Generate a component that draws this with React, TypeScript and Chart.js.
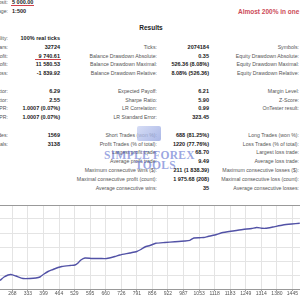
import React, { useEffect, useRef } from "react";
import { Chart, registerables } from "chart.js";

Chart.register(...registerables);

// ---- chart data (balance curve, trade number vs balance) ----
const tradeNumbers = [
  216, 233, 250, 262, 283, 313, 342, 367, 384, 401, 418, 439, 460, 476, 510, 531, 544, 556, 573,
  602, 636, 665, 699, 720, 762, 791, 808, 825, 846, 871, 909, 951, 993, 1014, 1031, 1056, 1073,
  1090, 1119, 1148, 1195, 1237, 1274, 1295, 1316, 1333, 1363, 1405, 1442, 1476,
];
const balance = [
  5214, 5714, 6000, 6071, 5857, 5500, 5500, 5571, 5714, 6143, 6500, 6786, 7071, 7214, 7357, 7429,
  7714, 8143, 8429, 8357, 8357, 8357, 8643, 8857, 9143, 9357, 9643, 10000, 10214, 10529, 10643,
  10743, 10857, 10957, 11286, 11329, 11357, 11500, 11714, 12029, 12286, 12500, 12643, 12786, 12686,
  12671, 12857, 13143, 13286, 13386,
];
const xTickValues = [268, 333, 399, 464, 529, 595, 660, 726, 791, 856, 922, 987, 1053, 1118, 1183, 1249, 1314, 1380, 1445];
const xRange = [216, 1477];
const yRange = [4000, 16000];
const yStep = 2000;

// ---- report text ----
const headerLabels = ["Initial Deposit:", "Leverage:"];
const headerValues = ["5 000.00", "1:500"];
const sectionTitle = "Results";
const note = "Almost 200% in one month";
const col1Labels = ["History Quality:", "Bars:", "Total Net Profit:", "Gross Profit:", "Gross Loss:", "", "Profit Factor:", "Recovery Factor:", "AHPR:", "GHPR:", "", "Total Trades:", "Total Deals:", "", "", "", "", ""];
const col1Values = ["100% real ticks", "32724", "9 740.61", "11 580.53", "-1 839.92", "", "6.29", "2.55", "1.0007 (0.07%)", "1.0007 (0.07%)", "", "1569", "3138", "", "", "", "", ""];
const col2Labels = ["", "Ticks:", "Balance Drawdown Absolute:", "Balance Drawdown Maximal:", "Balance Drawdown Relative:", "", "Expected Payoff:", "Sharpe Ratio:", "LR Correlation:", "LR Standard Error:", "", "Short Trades (won %):", "Profit Trades (% of total):", "Largest profit trade:", "Average profit trade:", "Maximum consecutive wins ($):", "Maximal consecutive profit (count):", "Average consecutive wins:"];
const col2Values = ["", "2074184", "0.35", "526.36 (8.08%)", "8.08% (526.36)", "", "6.21", "5.90", "0.99", "323.45", "", "688 (81.25%)", "1220 (77.76%)", "68.70", "9.49", "211 (1 838.39)", "1 975.68 (208)", "35"];
const col3Labels = ["", "Symbols:", "Equity Drawdown Absolute:", "Equity Drawdown Maximal:", "Equity Drawdown Relative:", "", "Margin Level:", "Z-Score:", "OnTester result:", "", "", "Long Trades (won %):", "Loss Trades (% of total):", "Largest loss trade:", "Average loss trade:", "Maximum consecutive losses ($):", "Maximal consecutive loss (count):", "Average consecutive losses:"];
const watermark = ["SIMPLE FOREX", "TOOLS"];

const FONT = "'Liberation Sans', Arial, sans-serif";
const ROW0 = 38;
const ROWH = 8.8;

function Cell(props: { text: string; right: number; y: number; bold?: boolean; color?: string; size?: number }) {
  const { text, right, y, bold, color, size } = props;
  if (!text) return null;
  return (
    <div
      style={{
        position: "absolute",
        left: right - 200,
        width: 200,
        top: y - 4,
        height: 8,
        lineHeight: "8px",
        textAlign: "right",
        whiteSpace: "nowrap",
        fontFamily: FONT,
        fontSize: size ?? (bold ? 5.5 : 5.2),
        fontWeight: bold ? 700 : 400,
        color: color ?? (bold ? "#1a1a1a" : "#555"),
      }}
    >
      {text}
    </div>
  );
}

export default function App() {
  const canvasRef = useRef<HTMLCanvasElement | null>(null);

  useEffect(() => {
    const canvas = canvasRef.current;
    if (!canvas) return;
    const points = tradeNumbers.map((t, i) => ({ x: t, y: balance[i] }));
    const chart = new Chart(canvas, {
      type: "line",
      data: {
        datasets: [
          {
            data: points,
            borderColor: "#5252a6",
            borderWidth: 1.4,
            pointRadius: 0,
            tension: 0.2,
            fill: false,
          },
        ],
      },
      options: {
        animation: false,
        responsive: false,
        maintainAspectRatio: false,
        layout: { padding: { top: 5, left: 0, right: 0, bottom: 3 } },
        plugins: { legend: { display: false }, tooltip: { enabled: false }, title: { display: false } },
        scales: {
          x: {
            type: "linear",
            min: xRange[0],
            max: xRange[1],
            afterBuildTicks: (scale: any) => {
              scale.ticks = xTickValues.map((v) => ({ value: v }));
            },
            ticks: {
              autoSkip: false,
              maxRotation: 0,
              padding: 0,
              color: "#555",
              font: { size: 5, family: FONT },
              callback: (v: any) => String(v),
            },
            grid: { color: "#e4e4e4", tickLength: 2, tickColor: "#999", lineWidth: 1 },
            border: { color: "#999", width: 1 },
          },
          y: {
            type: "linear",
            min: yRange[0],
            max: yRange[1],
            ticks: { display: false, stepSize: yStep },
            grid: {
              drawTicks: false,
              color: (ctx: any) => (ctx.tick && ctx.tick.value === yRange[1] ? "#999" : "#e4e4e4"),
            },
            border: { display: false },
          },
        },
      },
    });
    return () => chart.destroy();
  }, []);

  return (
    <div
      style={{
        position: "fixed",
        left: 0,
        top: 0,
        width: 300,
        height: 300,
        overflow: "hidden",
        background: "#fff",
      }}
    >
      {headerLabels.map((l, i) => (
        <React.Fragment key={"h" + i}>
          <Cell text={l} right={8} y={1.5 + i * 9} />
          <div
            style={{
              position: "absolute",
              left: 12,
              top: 1.5 + i * 9 - 4,
              height: 8,
              lineHeight: "8px",
              whiteSpace: "nowrap",
              fontFamily: FONT,
              fontSize: 5.5,
              fontWeight: 700,
              color: "#1a1a1a",
            }}
          >
            {headerValues[i]}
          </div>
        </React.Fragment>
      ))}
      <div style={{ position: "absolute", left: 11, top: 4.5, width: 23, height: 1, background: "#d0424a" }} />
      <div
        style={{
          position: "absolute",
          left: 238,
          top: 8,
          whiteSpace: "nowrap",
          fontFamily: FONT,
          fontSize: 6.5,
          fontWeight: 700,
          lineHeight: "8px",
          color: "#cc4b57",
        }}
      >
        {note}
      </div>
      <div
        style={{
          position: "absolute",
          left: 100,
          width: 102,
          top: 24,
          textAlign: "center",
          fontFamily: FONT,
          fontSize: 6.5,
          fontWeight: 700,
          lineHeight: "8px",
          color: "#222",
        }}
      >
        {sectionTitle}
      </div>
      {col1Labels.map((_, i) => {
        const y = ROW0 + i * ROWH;
        return (
          <React.Fragment key={"r" + i}>
            <Cell text={col1Labels[i]} right={8} y={y} />
            <Cell text={col1Values[i]} right={60} y={y} bold />
            <Cell text={col2Labels[i]} right={157} y={y} />
            <Cell text={col2Values[i]} right={209} y={y} bold />
            <Cell text={col3Labels[i]} right={299} y={y} />
          </React.Fragment>
        );
      })}
      <div style={{ position: "absolute", left: 35, top: ROW0 + 2 * ROWH + 3, width: 26, height: 1, background: "#d0424a" }} />
      <div
        style={{
          position: "absolute",
          left: 137,
          top: 126,
          width: 24,
          height: 15,
          borderRadius: 2,
          background: "linear-gradient(135deg, #c9d2f2, #8fa0df)",
          opacity: 0.75,
        }}
      />
      <div
        style={{
          position: "absolute",
          left: 104,
          top: 150,
          width: 92,
          fontFamily: "'Liberation Serif', 'DejaVu Serif', serif",
          fontSize: 11.5,
          lineHeight: "10px",
          fontWeight: 700,
          letterSpacing: 0.3,
          color: "rgba(70, 90, 200, 0.55)",
          whiteSpace: "nowrap",
        }}
      >
        <div>{watermark[0]}</div>
        <div style={{ paddingLeft: 31 }}>{watermark[1]}</div>
      </div>
      <canvas
        ref={canvasRef}
        width={300}
        height={100}
        style={{ position: "absolute", left: 0, top: 200, width: 300, height: 100, display: "block" }}
      />
    </div>
  );
}
